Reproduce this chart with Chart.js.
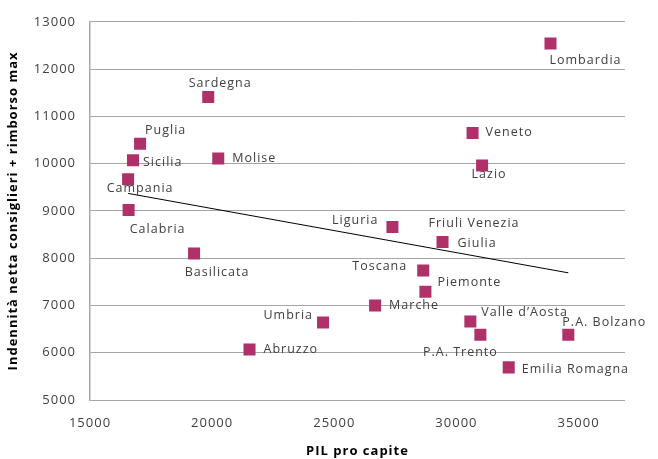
<!DOCTYPE html>
<html>
<head>
<meta charset="utf-8">
<script src="https://cdn.jsdelivr.net/npm/chart.js@4/dist/chart.umd.min.js"></script>
<style>
  html, body { margin: 0; padding: 0; background: #ffffff; }
  #wrap { width: 658px; height: 459px; }
</style>
</head>
<body>
<div id="wrap"><canvas id="c" width="658" height="459"></canvas></div>
<script>
// Regions of Italy: GDP per capita vs. councillors' net pay + max reimbursement
const regions = [
  'Lombardia', 'Sardegna', 'Puglia', 'Sicilia', 'Campania', 'Calabria', 'Molise',
  'Basilicata', 'Veneto', 'Lazio', 'Liguria', 'Friuli Venezia Giulia', 'Toscana',
  'Piemonte', 'Marche', 'Umbria', 'Abruzzo', "Valle d’Aosta", 'P.A. Trento',
  'P.A. Bolzano', 'Emilia Romagna'
];
const pilProCapite = [
  33850, 19840, 17050, 16760, 16560, 16580, 20250,
  19260, 30660, 31050, 27380, 29430, 28640,
  28730, 26670, 24540, 21530, 30570, 30980,
  34580, 32140
];
const indennita = [
  12540, 11410, 10420, 10070, 9670, 9020, 10110,
  8100, 10650, 9960, 8660, 8340, 7740,
  7290, 7000, 6640, 6070, 6660, 6380,
  6380, 5690
];
// Linear trend line end points
const trendX = [16560, 34580];
const trendY = [9370, 7690];

const xTicks = [15000, 20000, 25000, 30000, 35000];
const yTicks = [5000, 6000, 7000, 8000, 9000, 10000, 11000, 12000, 13000];

// Label text lines and placement relative to each marker (dx, dy, align)
const labelLayout = [
  { lines: ['Lombardia'], dx: -1, dy: 17, align: 'left' },
  { lines: ['Sardegna'], dx: 12, dy: -14, align: 'center' },
  { lines: ['Puglia'], dx: 5, dy: -13, align: 'left' },
  { lines: ['Sicilia'], dx: 10, dy: 2, align: 'left' },
  { lines: ['Campania'], dx: 12, dy: 9, align: 'center' },
  { lines: ['Calabria'], dx: 29, dy: 19, align: 'center' },
  { lines: ['Molise'], dx: 14, dy: 0, align: 'left' },
  { lines: ['Basilicata'], dx: 23, dy: 19, align: 'center' },
  { lines: ['Veneto'], dx: 13, dy: 0, align: 'left' },
  { lines: ['Lazio'], dx: 7, dy: 9, align: 'center' },
  { lines: ['Liguria'], dx: -14, dy: -7, align: 'right' },
  { lines: ['Friuli Venezia', 'Giulia'], dx: [-14, 15], dy: [-19, 1], align: 'left' },
  { lines: ['Toscana'], dx: -16, dy: -4, align: 'right' },
  { lines: ['Piemonte'], dx: 12, dy: -9, align: 'left' },
  { lines: ['Marche'], dx: 14, dy: 0, align: 'left' },
  { lines: ['Umbria'], dx: -10, dy: -7, align: 'right' },
  { lines: ['Abruzzo'], dx: 14, dy: 0, align: 'left' },
  { lines: ["Valle d’Aosta"], dx: 11, dy: -9, align: 'left' },
  { lines: ['P.A. Trento'], dx: -20, dy: 18, align: 'center' },
  { lines: ['P.A. Bolzano'], dx: -6, dy: -12, align: 'left' },
  { lines: ['Emilia Romagna'], dx: 13, dy: 2, align: 'left' }
];

const points = pilProCapite.map((x, i) => ({ x: x, y: indennita[i] }));
const trend = trendX.map((x, i) => ({ x: x, y: trendY[i] }));

const textColor = '#404040';
const gridColor = '#a6a6a6';

const spacingPlugin = {
  id: 'spacing',
  beforeDraw(chart) {
    chart.ctx.letterSpacing = '1px';
  }
};

const pointLabels = {
  id: 'pointLabels',
  afterDatasetsDraw(chart) {
    const ctx = chart.ctx;
    const meta = chart.getDatasetMeta(1);
    ctx.save();
    ctx.font = '12.5px "Open Sans"';
    ctx.letterSpacing = '1px';
    ctx.fillStyle = textColor;
    ctx.textBaseline = 'middle';
    meta.data.forEach((el, i) => {
      const lay = labelLayout[i];
      lay.lines.forEach((t, j) => {
        const dx = Array.isArray(lay.dx) ? lay.dx[j] : lay.dx;
        const dy = Array.isArray(lay.dy) ? lay.dy[j] : lay.dy;
        ctx.textAlign = lay.align;
        ctx.fillText(t, el.x + dx, el.y + dy);
      });
    });
    ctx.restore();
  }
};

new Chart(document.getElementById('c'), {
  type: 'scatter',
  data: {
    datasets: [
      {
        label: 'Trend',
        type: 'line',
        data: trend,
        borderColor: '#000000',
        borderWidth: 1,
        pointRadius: 0,
        fill: false,
        order: 2
      },
      {
        label: 'Regioni',
        data: points,
        pointStyle: 'rect',
        pointRadius: 8.5,
        pointHoverRadius: 8.5,
        backgroundColor: '#b0306a',
        borderColor: '#b0306a',
        borderWidth: 0,
        order: 1
      }
    ]
  },
  options: {
    responsive: false,
    animation: false,
    events: [],
    layout: { padding: { left: 0, right: 33, top: 18, bottom: 0 } },
    plugins: {
      legend: { display: false },
      tooltip: { enabled: false }
    },
    scales: {
      x: {
        type: 'linear',
        min: 15000,
        max: 36900,
        afterBuildTicks(scale) { scale.ticks = xTicks.map(v => ({ value: v })); },
        afterFit(scale) { scale.height = 59; },
        grid: { display: false, drawTicks: false },
        border: { display: false },
        ticks: {
          color: textColor,
          font: { family: 'Open Sans', size: 13 },
          padding: 15,
          maxRotation: 0,
          callback: v => String(v)
        },
        title: {
          display: true,
          text: 'PIL pro capite',
          color: '#000000',
          font: { family: 'Open Sans', size: 13, weight: 'bold' },
          padding: { top: 2, bottom: 0 }
        }
      },
      y: {
        type: 'linear',
        min: 5000,
        max: 13000,
        afterBuildTicks(scale) { scale.ticks = yTicks.map(v => ({ value: v })); },
        afterFit(scale) { scale.width = 90; },
        grid: { color: gridColor, lineWidth: 1, drawTicks: false },
        border: { display: true, color: gridColor, width: 1.5 },
        ticks: {
          color: textColor,
          font: { family: 'Open Sans', size: 13 },
          padding: 14,
          callback: v => String(v)
        },
        title: {
          display: true,
          text: 'Indennità netta consiglieri + rimborso max',
          color: '#000000',
          font: { family: 'Open Sans', size: 13, weight: 'bold' },
          padding: { top: 5, bottom: 2 }
        }
      }
    }
  },
  plugins: [spacingPlugin, pointLabels]
});
</script>
</body>
</html>
